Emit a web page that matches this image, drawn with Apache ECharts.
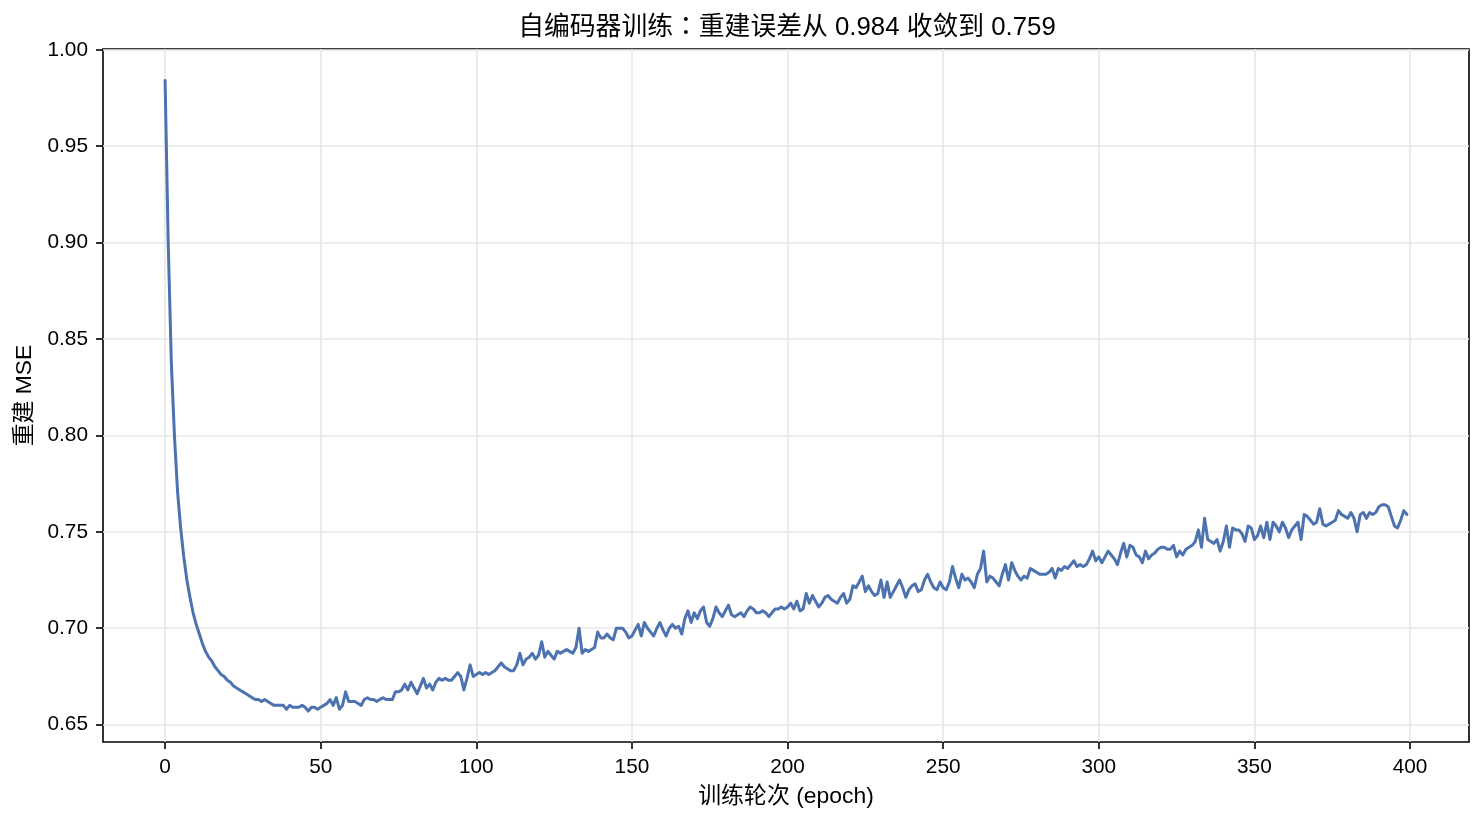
<!DOCTYPE html>
<html><head><meta charset="utf-8">
<script src="https://cdn.jsdelivr.net/npm/echarts@6/dist/echarts.min.js"></script>
<style>html,body{margin:0;padding:0;background:#fff}#c{width:1484px;height:824px}</style>
</head><body><div id="c"></div>
<script>
const titleParts = ['自编码器训练', '：', '重建误差从 0.984 收敛到 0.759'];
const xLabel = '训练轮次 (epoch)';
const yLabel = '重建 MSE';
const xTicks = [0, 50, 100, 150, 200, 250, 300, 350, 400];
const yTicks = [0.65, 0.70, 0.75, 0.80, 0.85, 0.90, 0.95, 1.00];
const loss = [
  0.984, 0.900, 0.838, 0.800, 0.771, 0.752, 0.737, 0.725, 0.716, 0.708,
  0.702, 0.697, 0.692, 0.688, 0.685, 0.683, 0.680, 0.678, 0.676, 0.675,
  0.673, 0.672, 0.670, 0.669, 0.668, 0.667, 0.666, 0.665, 0.664, 0.663,
  0.663, 0.662, 0.663, 0.662, 0.661, 0.660, 0.660, 0.660, 0.660, 0.658,
  0.660, 0.659, 0.659, 0.659, 0.660, 0.659, 0.657, 0.659, 0.659, 0.658,
  0.659, 0.660, 0.661, 0.663, 0.660, 0.664, 0.658, 0.660, 0.667, 0.662,
  0.662, 0.662, 0.661, 0.660, 0.663, 0.664, 0.663, 0.663, 0.662, 0.663,
  0.664, 0.663, 0.663, 0.663, 0.667, 0.667, 0.668, 0.671, 0.668, 0.672,
  0.669, 0.666, 0.670, 0.674, 0.669, 0.671, 0.668, 0.672, 0.674, 0.673,
  0.674, 0.673, 0.673, 0.675, 0.677, 0.675, 0.668, 0.674, 0.681, 0.675,
  0.676, 0.677, 0.676, 0.677, 0.676, 0.677, 0.678, 0.680, 0.682, 0.680,
  0.679, 0.678, 0.678, 0.681, 0.687, 0.681, 0.684, 0.685, 0.687, 0.684,
  0.686, 0.693, 0.685, 0.688, 0.686, 0.684, 0.688, 0.687, 0.688, 0.689,
  0.688, 0.687, 0.690, 0.700, 0.687, 0.689, 0.688, 0.689, 0.690, 0.698,
  0.695, 0.695, 0.697, 0.695, 0.694, 0.700, 0.700, 0.700, 0.698, 0.695,
  0.696, 0.699, 0.702, 0.696, 0.703, 0.700, 0.698, 0.696, 0.700, 0.703,
  0.699, 0.696, 0.700, 0.702, 0.700, 0.701, 0.697, 0.705, 0.709, 0.703,
  0.708, 0.705, 0.709, 0.711, 0.703, 0.701, 0.705, 0.711, 0.708, 0.706,
  0.709, 0.712, 0.707, 0.706, 0.707, 0.708, 0.706, 0.709, 0.711, 0.710,
  0.708, 0.708, 0.709, 0.708, 0.706, 0.708, 0.710, 0.710, 0.711, 0.710,
  0.711, 0.713, 0.710, 0.714, 0.709, 0.710, 0.718, 0.713, 0.717, 0.714,
  0.711, 0.713, 0.716, 0.717, 0.715, 0.714, 0.713, 0.716, 0.718, 0.713,
  0.715, 0.722, 0.721, 0.724, 0.727, 0.719, 0.722, 0.719, 0.717, 0.718,
  0.725, 0.716, 0.724, 0.716, 0.719, 0.722, 0.725, 0.721, 0.716, 0.720,
  0.722, 0.723, 0.719, 0.720, 0.725, 0.728, 0.724, 0.721, 0.720, 0.724,
  0.721, 0.720, 0.724, 0.732, 0.726, 0.721, 0.728, 0.725, 0.726, 0.724,
  0.721, 0.728, 0.731, 0.740, 0.724, 0.727, 0.726, 0.724, 0.722, 0.728,
  0.733, 0.725, 0.734, 0.730, 0.727, 0.725, 0.727, 0.726, 0.731, 0.730,
  0.729, 0.728, 0.728, 0.728, 0.729, 0.731, 0.726, 0.731, 0.730, 0.732,
  0.731, 0.733, 0.735, 0.732, 0.733, 0.732, 0.733, 0.736, 0.740, 0.735,
  0.737, 0.734, 0.737, 0.740, 0.738, 0.736, 0.733, 0.739, 0.744, 0.737,
  0.743, 0.742, 0.738, 0.737, 0.734, 0.740, 0.736, 0.738, 0.739, 0.741,
  0.742, 0.742, 0.741, 0.741, 0.743, 0.737, 0.740, 0.738, 0.741, 0.742,
  0.743, 0.745, 0.751, 0.742, 0.757, 0.746, 0.745, 0.744, 0.746, 0.740,
  0.745, 0.753, 0.742, 0.752, 0.751, 0.751, 0.749, 0.745, 0.753, 0.752,
  0.746, 0.748, 0.753, 0.747, 0.755, 0.746, 0.755, 0.753, 0.750, 0.755,
  0.752, 0.747, 0.751, 0.753, 0.755, 0.746, 0.759, 0.758, 0.756, 0.754,
  0.755, 0.762, 0.754, 0.753, 0.754, 0.755, 0.756, 0.761, 0.759, 0.758,
  0.757, 0.760, 0.757, 0.750, 0.759, 0.760, 0.757, 0.760, 0.759, 0.760,
  0.763, 0.764, 0.764, 0.763, 0.758, 0.753, 0.752, 0.756, 0.761, 0.759
];
const epochs = loss.map((_, i) => i);

const FONT = '"Liberation Sans", Arial, "Noto Sans CJK SC", sans-serif';
const FONT_TC = '"Liberation Sans", Arial, "Noto Sans CJK TC", sans-serif';
const chart = echarts.init(document.getElementById('c'), null, {renderer: 'canvas'});
chart.setOption({
  animation: false,
  backgroundColor: '#ffffff',
  textStyle: {fontFamily: FONT, color: '#000'},
  graphic: [{
    type: 'text', x: 787, y: 28,
    style: {
      text: titleParts[0] + '{c|' + titleParts[1] + '}' + titleParts[2],
      fontSize: 25.8, fontFamily: FONT, fill: '#000',
      textAlign: 'center', textVerticalAlign: 'middle',
      rich: {c: {fontSize: 25.8, fontFamily: FONT_TC, fill: '#000'}}
    }
  }],
  grid: {left: 103, right: 15, top: 49, bottom: 82, show: true,
         borderColor: '#000', borderWidth: 1.6, backgroundColor: 'transparent'},
  xAxis: {
    type: 'value', min: -19.95, max: 418.95,
    name: xLabel, nameLocation: 'middle', nameGap: 43,
    nameTextStyle: {fontSize: 22.9, fontFamily: FONT, color: '#000'},
    axisLine: {show: false, onZero: false},
    axisTick: {show: true, inside: false, length: 7, customValues: xTicks,
               lineStyle: {color: '#000', width: 1.6}},
    axisLabel: {show: true, margin: 15, customValues: xTicks, fontSize: 20.8,
                fontFamily: FONT, color: '#000', formatter: v => String(v)},
    splitLine: {show: true, lineStyle: {color: '#e8e8e8', width: 1.6}}
  },
  yAxis: {
    type: 'value', min: 0.6410, max: 1.0004,
    name: yLabel, nameLocation: 'middle', nameGap: 66, nameRotate: 90,
    nameTextStyle: {fontSize: 22.9, fontFamily: FONT, color: '#000'},
    axisLine: {show: false, onZero: false},
    axisTick: {show: true, inside: false, length: 7, customValues: yTicks,
               lineStyle: {color: '#000', width: 1.6}},
    axisLabel: {show: true, margin: 15, customValues: yTicks, fontSize: 20.8,
                fontFamily: FONT, color: '#000', formatter: v => v.toFixed(2)},
    splitLine: {show: true, lineStyle: {color: '#e8e8e8', width: 1.6}}
  },
  series: [{
    type: 'line',
    data: epochs.map((e, i) => [e, loss[i]]),
    showSymbol: false, symbol: 'none', smooth: false,
    lineStyle: {color: '#4C72B0', width: 3, join: 'round', cap: 'round'},
    z: 3
  }]
});
</script>
</body></html>
